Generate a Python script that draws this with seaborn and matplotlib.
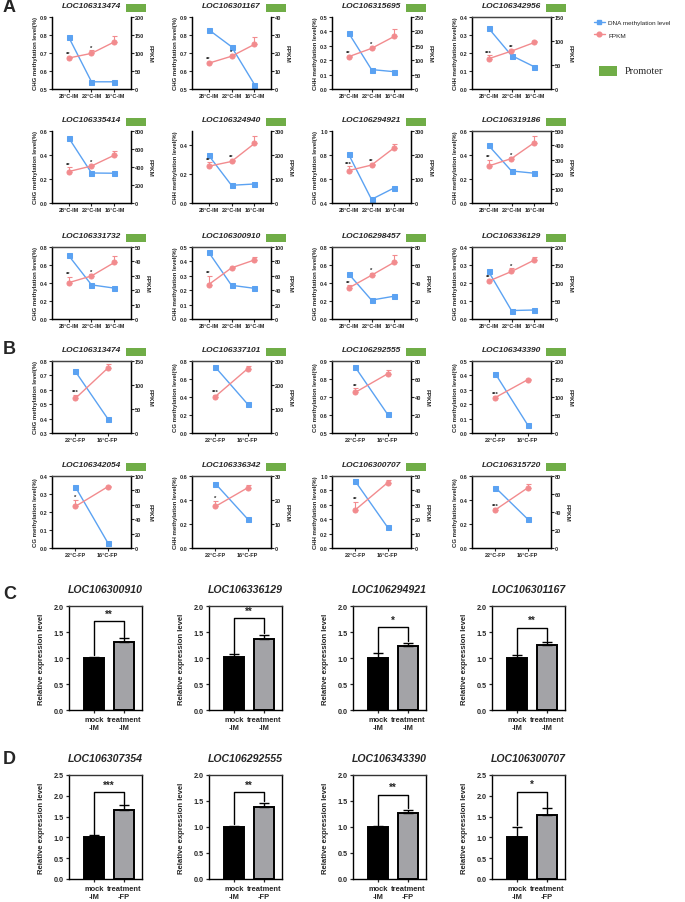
import numpy as np
import pandas as pd
import matplotlib.pyplot as plt
import seaborn as sns
from matplotlib.lines import Line2D
from matplotlib.patches import Rectangle

sns.set_theme(style='ticks')
plt.rcParams['font.family'] = ['Liberation Sans', 'DejaVu Sans']

# ---------------- data: panel A ----------------
a_labels = ['28°C-IM', '22°C-IM', '16°C-IM']
a_genes = ['LOC106313474', 'LOC106301167', 'LOC106315695', 'LOC106342956',
           'LOC106335414', 'LOC106324940', 'LOC106294921', 'LOC106319186',
           'LOC106331732', 'LOC106300910', 'LOC106298457', 'LOC106336129']
a_context = ['CHG', 'CHG', 'CHH', 'CHH', 'CHG', 'CHH', 'CHG', 'CHH', 'CHG', 'CHH', 'CHG', 'CHG']
a_meth = [[0.79, 0.54, 0.54], [0.83, 0.735, 0.525], [0.39, 0.135, 0.12], [0.338, 0.186, 0.123],
          [0.545, 0.25, 0.248], [0.332, 0.123, 0.132], [0.807, 0.43, 0.527], [0.48, 0.267, 0.248],
          [0.707, 0.379, 0.343], [0.465, 0.234, 0.213], [0.503, 0.21, 0.254], [0.264, 0.047, 0.05]]
a_fpkm = [[86, 99, 131], [14.3, 18.2, 24.8], [112, 141, 183], [63, 79, 97],
          [349, 411, 532], [153, 173, 248], [135, 158, 231], [257, 309, 420],
          [25.2, 29.9, 39.3], [47.7, 71, 82], [34.3, 48.6, 63.2], [105, 132, 164]]
a_err = [[3, 8.5, 16.5], [0.8, 0.8, 4.2], [4, 5, 26], [7, 3, 2],
         [47, 10, 48], [16, 8, 31], [18, 5, 14], [41, 8, 48],
         [4, 1.2, 4.2], [12, 1.5, 4], [3.2, 2.5, 8], [3, 9, 8]]
a_ylim = [(0.5, 0.9), (0.5, 0.9), (0, 0.5), (0, 0.4), (0, 0.6), (0, 0.5),
          (0.4, 1.0), (0, 0.6), (0, 0.8), (0, 0.5), (0, 0.8), (0, 0.4)]
a_ystep = [0.1, 0.1, 0.1, 0.1, 0.2, 0.2, 0.2, 0.2, 0.2, 0.1, 0.2, 0.1]
a_fmax = [200, 40, 250, 150, 800, 300, 300, 500, 50, 100, 80, 200]
a_fstep = [50, 10, 50, 50, 200, 100, 100, 100, 10, 20, 20, 50]
a_stars = [['**', '*', ''], ['**', '*', ''], ['**', '*', ''], ['***', '**', ''],
           ['**', '*', ''], ['**', '**', ''], ['***', '**', ''], ['**', '*', ''],
           ['**', '*', ''], ['**', '', ''], ['**', '*', ''], ['**', '*', '']]

# ---------------- data: panel B ----------------
b_labels = ['22°C-FP', '16°C-FP']
b_genes = ['LOC106313474', 'LOC106337101', 'LOC106292555', 'LOC106343390',
           'LOC106342054', 'LOC106336342', 'LOC106300707', 'LOC106315720']
b_context = ['CHG', 'CG', 'CG', 'CG', 'CG', 'CHH', 'CHH', 'CG']
b_meth = [[0.728, 0.40], [0.732, 0.32], [0.865, 0.603], [0.412, 0.056],
          [0.34, 0.03], [0.537, 0.241], [0.926, 0.286], [0.504, 0.241]]
b_fpkm = [[72, 135], [152, 268], [45.2, 65.8], [98.6, 148],
          [57.7, 85], [17.3, 25.1], [26.5, 45.4], [42.4, 66.8]]
b_err = [[7, 8], [8, 10], [4.6, 4.2], [3, 2], [9.3, 1.5], [2.4, 1], [5.5, 2.1], [1.5, 4]]
b_ylim = [(0.3, 0.8), (0, 0.8), (0.5, 0.9), (0, 0.5), (0, 0.4), (0, 0.6), (0, 1.0), (0, 0.6)]
b_ystep = [0.1, 0.2, 0.1, 0.1, 0.1, 0.2, 0.2, 0.2]
b_fmax = [150, 300, 80, 200, 100, 30, 50, 80]
b_fstep = [50, 100, 20, 50, 20, 10, 10, 20]
b_stars = [['***', ''], ['***', ''], ['**', ''], ['***', ''],
           ['*', ''], ['*', ''], ['**', ''], ['***', '']]

# ---------------- data: panels C and D ----------------
c_genes = ['LOC106300910', 'LOC106336129', 'LOC106294921', 'LOC106301167']
c_labels = ['mock\n-IM', 'treatment\n-IM']
c_vals = [[1.0, 1.31], [1.02, 1.37], [1.0, 1.24], [1.0, 1.25]]
c_errs = [[0.02, 0.07], [0.05, 0.08], [0.09, 0.05], [0.05, 0.05]]
c_ymax = [2.0, 2.0, 2.0, 2.0]
c_bracket = [1.71, 1.76, 1.59, 1.58]
c_stars = ['**', '**', '*', '**']

d_genes = ['LOC106307354', 'LOC106292555', 'LOC106343390', 'LOC106300707']
d_labels = ['mock\n-IM', 'treatment\n-FP']
d_vals = [[1.0, 1.65], [1.0, 1.39], [1.0, 1.26], [1.02, 1.55]]
d_errs = [[0.05, 0.12], [0.02, 0.08], [0.01, 0.07], [0.24, 0.15]]
d_ymax = [2.5, 2.0, 2.0, 2.5]
d_bracket = [2.09, 1.67, 1.62, 2.1]
d_stars = ['***', '**', '**', '*']

BLUE = '#5BA2F2'
RED = '#F28B8E'
GREEN = '#70AD47'

W, H = 685, 903
fig = plt.figure(figsize=(W / 100, H / 100), dpi=100)


def box(left, top, w, h):
    return fig.add_axes([left / W, 1 - (top + h) / H, w / W, h / H])


def spines(a, top):
    for s in ['left', 'right', 'bottom']:
        a.spines[s].set_linewidth(0.9)
        a.spines[s].set_color('black')
    a.spines['top'].set_visible(top)
    a.spines['top'].set_linewidth(0.9)
    a.spines['top'].set_color('#444444')


def meth_panel(left, top, gene, labels, meth, fpkm, err, ylim, ystep, fmax, fstep, ctx, stars, topline):
    w, h = 79, 72
    ax = box(left, top, w, h)
    ax2 = ax.twinx()
    x = np.arange(len(labels))
    sns.lineplot(x=x, y=meth, ax=ax, color=BLUE, marker='s', markersize=3.6,
                 markeredgecolor=BLUE, linewidth=1.0)
    ax2.errorbar(x, fpkm, yerr=[np.zeros(len(x)), err], fmt='none', ecolor=RED,
                 elinewidth=0.8, capsize=1.8, capthick=0.8)
    sns.lineplot(x=x, y=fpkm, ax=ax2, color=RED, marker='o', markersize=3.6,
                 markeredgecolor=RED, linewidth=1.0)
    for i, s in enumerate(stars):
        if s:
            ax2.text(x[i], fpkm[i] + err[i] + 0.01 * fmax, s, ha='center', va='bottom',
                     fontsize=4.2, fontweight='bold')
    pad = 0.72
    ax.set_xlim(-pad, len(x) - 1 + pad)
    ax.set_xticks(x)
    ax.set_xticklabels(labels, fontsize=4, fontweight='bold')
    ax.set_ylim(*ylim)
    yt = np.arange(ylim[0], ylim[1] + 1e-9, ystep)
    ax.set_yticks(yt)
    ax.set_yticklabels(['{:.1f}'.format(v) for v in yt], fontsize=4, fontweight='bold')
    ax2.set_ylim(0, fmax)
    ft = np.arange(0, fmax + 1e-9, fstep)
    ax2.set_yticks(ft)
    ax2.set_yticklabels(['{:g}'.format(v) for v in ft], fontsize=4, fontweight='bold')
    ax.set_ylabel(ctx + ' methylation level(%)', fontsize=4.3, fontweight='bold', labelpad=1.5)
    ax2.set_ylabel('FPKM', fontsize=4.6, fontweight='bold', rotation=270, labelpad=6)
    ax.set_xlabel('')
    for a in (ax, ax2):
        a.tick_params(length=2, width=0.8, pad=1)
        spines(a, topline)
    ax.grid(False)
    ax2.grid(False)
    fig.text((left + w / 2) / W, 1 - (top - 11) / H, gene, ha='center', va='center',
             fontsize=6, fontweight='bold', style='italic')
    fig.add_artist(Rectangle(((left + 74) / W, 1 - (top - 5) / H), 20 / W, 8 / H,
                             transform=fig.transFigure, facecolor=GREEN, edgecolor='none'))


def bar_panel(left, top, gene, labels, vals, errs, ymax, bracket, star):
    w, h = 73, 104
    ax = box(left, top, w, h)
    df = pd.DataFrame({'grp': labels, 'val': vals})
    sns.barplot(data=df, x='grp', y='val', hue='grp', palette=['black', '#A2A2A8'],
                edgecolor='black', linewidth=1.4, width=0.68, ax=ax, legend=False)
    ax.errorbar([0, 1], vals, yerr=[[0, 0], errs], fmt='none', ecolor='black',
                elinewidth=1.0, capsize=3.5, capthick=1.0)
    legs = [vals[0] + errs[0] + 0.03, vals[1] + errs[1] + 0.03]
    ax.plot([0, 0, 1, 1], [legs[0], bracket, bracket, legs[1]], color='black', lw=1.0)
    ax.text(0.5, bracket + 0.025 * ymax, star, ha='center', va='bottom', fontsize=7, fontweight='bold')
    ax.set_xlim(-0.85, 1.6)
    ax.set_ylim(0, ymax)
    yt = np.arange(0, ymax + 1e-9, 0.5)
    ax.set_yticks(yt)
    ax.set_yticklabels(['{:.1f}'.format(v) for v in yt], fontsize=5.2, fontweight='bold')
    ax.set_xticks([0, 1])
    ax.set_xticklabels(labels, fontsize=5.4, fontweight='bold', linespacing=1.3)
    ax.set_xlabel('')
    ax.set_ylabel('Relative expression level', fontsize=5.6, fontweight='bold', labelpad=6)
    ax.tick_params(length=2.5, width=0.9, pad=1.5)
    for s in ['left', 'right', 'bottom', 'top']:
        ax.spines[s].set_linewidth(1.0)
        ax.spines[s].set_color('black')
    ax.spines['top'].set_color('#333333')
    fig.text((left + w / 2) / W, 1 - (top - 17) / H, gene, ha='center', va='center',
             fontsize=7.6, fontweight='bold', style='italic')


# layout
col_left = [52, 192, 332, 472]
a_tops = [18, 132, 248]
a_topline = [False, False, False, True, False, False, False, True, True, True, True, True]
for k in range(12):
    r, c = divmod(k, 4)
    meth_panel(col_left[c], a_tops[r], a_genes[k], a_labels, a_meth[k], a_fpkm[k], a_err[k],
               a_ylim[k], a_ystep[k], a_fmax[k], a_fstep[k], a_context[k], a_stars[k], a_topline[k])

b_tops = [362, 477]
for k in range(8):
    r, c = divmod(k, 4)
    meth_panel(col_left[c], b_tops[r], b_genes[k], b_labels, b_meth[k], b_fpkm[k], b_err[k],
               b_ylim[k], b_ystep[k], b_fmax[k], b_fstep[k], b_context[k], b_stars[k], True)

bar_left = [69, 209, 353, 492]
for k in range(4):
    bar_panel(bar_left[k], 607, c_genes[k], c_labels, c_vals[k], c_errs[k], c_ymax[k], c_bracket[k], c_stars[k])
    bar_panel(bar_left[k], 776, d_genes[k], d_labels, d_vals[k], d_errs[k], d_ymax[k], d_bracket[k], d_stars[k])

# panel letters
for letter, y in [('A', 8), ('B', 350), ('C', 595), ('D', 760)]:
    fig.text(3 / W, 1 - y / H, letter, fontsize=13, fontweight='bold', va='center', ha='left')

# legend
handles = [Line2D([], [], color=BLUE, marker='s', markersize=3.4, lw=1.0),
           Line2D([], [], color=RED, marker='o', markersize=3.4, lw=1.0)]
fig.legend(handles, ['DNA methylation level', 'FPKM'], loc='upper left',
           bbox_to_anchor=(591 / W, 1 - 18 / H), frameon=False, fontsize=4.6,
           handlelength=1.8, labelspacing=1.1, handletextpad=0.5, borderaxespad=0)
fig.add_artist(Rectangle((599 / W, 1 - 77 / H), 18 / W, 10 / H, transform=fig.transFigure,
                         facecolor=GREEN, edgecolor='none'))
fig.text(625 / W, 1 - 72 / H, 'Promoter', fontsize=7.5, va='center', ha='left',
         family=['Liberation Serif', 'DejaVu Serif'])

fig.savefig('out.png', dpi=100)
